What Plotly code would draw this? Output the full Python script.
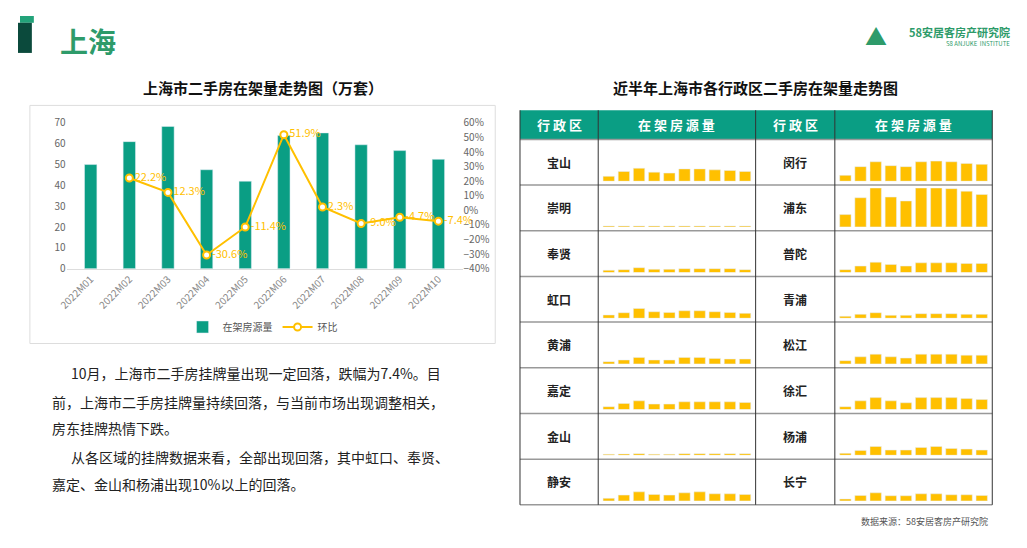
import plotly.graph_objects as go

W, H = 1011, 532   # page margins of 8px bring the page to 1027x548
OFF = 8
months = ["2022M01","2022M02","2022M03","2022M04","2022M05","2022M06","2022M07","2022M08","2022M09","2022M10"]
listings = [50, 61, 68.3, 47.5, 42, 64, 65.2, 59.5, 56.7, 52.5]
mom = [None, 22.2, 12.3, -30.6, -11.4, 51.9, 2.3, -9.0, -4.7, -7.4]

left_districts = ["宝山", "崇明", "奉贤", "虹口", "黄浦", "嘉定", "金山", "静安"]
right_districts = ["闵行", "浦东", "普陀", "青浦", "松江", "徐汇", "杨浦", "长宁"]
spark = {
    "宝山": [15,30,40,28,25,38,38,35,33,30],
    "崇明": [3,3,3,3,3,3,3,3,3,3],
    "奉贤": [7,9,15,10,10,12,12,12,12,9],
    "虹口": [10,17,30,20,18,23,23,20,18,15],
    "黄浦": [7,12,20,12,12,20,20,17,15,15],
    "嘉定": [9,19,27,17,17,24,24,24,24,22],
    "金山": [3,4,5,3,3,5,5,5,5,5],
    "静安": [8,18,28,20,18,25,28,22,22,20],
    "闵行": [18,45,60,48,45,60,62,60,55,52],
    "浦东": [38,90,120,92,80,120,120,118,110,100],
    "普陀": [9,20,32,25,20,30,30,30,28,28],
    "青浦": [6,12,17,9,9,14,14,14,12,12],
    "松江": [10,22,30,22,18,30,30,30,27,27],
    "徐汇": [9,27,37,27,21,37,37,37,34,31],
    "杨浦": [6,15,27,16,16,24,27,21,19,16],
    "长宁": [6,17,25,16,16,22,22,19,19,17],
}
TEAL = "#0A9E84"
GOLD = "#FFC000"
FONT = "Noto Sans CJK SC"

def px(x): return (x - OFF) / W
def py(y): return 1 - (y - OFF) / H

fig = go.Figure()
fig.add_trace(go.Bar(x=months, y=listings, name="在架房源量", marker_color=TEAL, width=0.32,
                     xaxis="x", yaxis="y"))
fig.add_trace(go.Scatter(x=months, y=[None if v is None else v/100 for v in mom], name="环比",
                         mode="lines+markers+text",
                         text=[None if v is None else f"{v:.1f}%" for v in mom],
                         textposition="middle right", textfont=dict(color=GOLD, size=11),
                         line=dict(color=GOLD, width=2),
                         marker=dict(size=7, color="white", line=dict(color=GOLD, width=2)),
                         xaxis="x", yaxis="y2", cliponaxis=False))

layout = dict(
    width=W, height=H, margin=dict(l=0, r=0, t=0, b=0),
    paper_bgcolor="white", plot_bgcolor="rgba(0,0,0,0)",
    font=dict(family=FONT, color="#333"),
    showlegend=True, bargap=0.6,
    legend=dict(orientation="h", x=px(255), y=py(328), xanchor="center", yanchor="middle",
                font=dict(size=10, color="#555"), bgcolor="rgba(0,0,0,0)"),
    xaxis=dict(domain=[px(57), px(457)], anchor="y", tickangle=-45, tickfont=dict(size=10, color="#888"),
               showline=True, linecolor="#ddd", showgrid=False),
    yaxis=dict(domain=[py(268), py(118)], anchor="x", range=[0, 70], dtick=10, showgrid=False,
               tickfont=dict(size=10, color="#666"), zeroline=False),
    yaxis2=dict(overlaying="y", side="right", anchor="x", range=[-0.4, 0.6], dtick=0.1, tickformat=".0%",
                showgrid=False, zeroline=False, tickfont=dict(size=10, color="#666")),
)

cols = [515, 594, 753, 833, 992]
rows = [105, 135, 182, 229, 276, 323, 370, 417, 464, 511]
shapes = [
    dict(type="rect", xref="paper", yref="paper", x0=px(20), x1=px(490), y0=py(345), y1=py(100),
         line=dict(color="#ddd", width=1)),
    dict(type="rect", xref="paper", yref="paper", x0=px(8), x1=px(22), y0=py(46), y1=py(15),
         fillcolor="#0B4A3C", line=dict(width=0)),
    dict(type="rect", xref="paper", yref="paper", x0=px(10), x1=px(24), y0=py(15), y1=py(8),
         fillcolor="#23A37A", line=dict(width=0), layer="below"),
    dict(type="rect", xref="paper", yref="paper", x0=px(cols[0]), x1=px(cols[-1]), y0=py(rows[1]), y1=py(rows[0]),
         fillcolor=TEAL, line=dict(width=0)),
]
for y in rows[1:]:
    shapes.append(dict(type="line", xref="paper", yref="paper", x0=px(cols[0]), x1=px(cols[-1]),
                       y0=py(y), y1=py(y), line=dict(color="#999", width=1.5)))
for x in cols:
    shapes.append(dict(type="line", xref="paper", yref="paper", x0=px(x), x1=px(x),
                       y0=py(rows[-1]), y1=py(rows[0]), line=dict(color="#333", width=1)))
layout["shapes"] = shapes

ann = [
    dict(text="<b>上海</b>", x=px(48), y=py(34), xanchor="left", yanchor="middle", font=dict(size=28, color="#2E9B6A")),
    dict(text="<b>58安居客房产研究院</b>", x=px(1012), y=py(24), xanchor="right", yanchor="middle", font=dict(size=11, color="#2E9B6A")),
    dict(text="S8 ANJUKE  INSTITUTE", x=px(1012), y=py(36), xanchor="right", yanchor="middle", font=dict(size=6, color="#2E9B6A")),
    dict(text="▲", x=px(875), y=py(28), xanchor="center", yanchor="middle", font=dict(size=22, color="#2E9B6A")),
    dict(text="<b>上海市二手房在架量走势图（万套）</b>", x=px(255), y=py(82), xanchor="center", yanchor="middle", font=dict(size=15, color="#111")),
    dict(text="<b>近半年上海市各行政区二手房在架量走势图</b>", x=px(753), y=py(82), xanchor="center", yanchor="middle", font=dict(size=15, color="#111")),
    dict(text="数据来源：58安居客房产研究院", x=px(990), y=py(528), xanchor="right", yanchor="middle", font=dict(size=9, color="#555")),
]
para = [
    (60, 375, "10月，上海市二手房挂牌量出现一定回落，跌幅为7.4%。目"),
    (40, 405, "前，上海市二手房挂牌量持续回落，与当前市场出现调整相关，"),
    (40, 432, "房东挂牌热情下跌。"),
    (60, 462, "从各区域的挂牌数据来看，全部出现回落，其中虹口、奉贤、"),
    (40, 490, "嘉定、金山和杨浦出现10%以上的回落。"),
]
for x, y, t in para:
    ann.append(dict(text=t, x=px(x), y=py(y), xanchor="left", yanchor="middle", font=dict(size=14, color="#222")))
for i, t in enumerate(["行 政 区", "在 架 房 源 量", "行 政 区", "在 架 房 源 量"]):
    ann.append(dict(text=f"<b>{t}</b>", x=px((cols[i]+cols[i+1])/2), y=py(120), xanchor="center", yanchor="middle",
                    font=dict(size=13, color="white", family="Noto Sans CJK SC")))

idx = 3
for side, names in enumerate([left_districts, right_districts]):
    nx0, nx1 = cols[2*side], cols[2*side+1]
    sx0, sx1 = cols[2*side+1], cols[2*side+2]
    for r, name in enumerate(names):
        top, bot = rows[r+1], rows[r+2]
        ann.append(dict(text=f"<b>{name}</b>", x=px((nx0+nx1)/2), y=py((top+bot)/2), xanchor="center",
                        yanchor="middle", font=dict(size=12, color="#222")))
        xa, ya = f"xaxis{idx}", f"yaxis{idx}"
        layout[xa] = dict(domain=[px(sx0+3), px(sx1-3)], anchor=f"y{idx}", visible=False, range=[-0.5, 9.5])
        layout[ya] = dict(domain=[py(bot-4), py(bot-44)], anchor=f"x{idx}", visible=False, range=[0, 120])
        fig.add_trace(go.Bar(x=list(range(10)), y=spark[name], marker_color=GOLD, width=0.75,
                             showlegend=False, xaxis=f"x{idx}", yaxis=f"y{idx}", hoverinfo="skip"))
        idx += 1

for a in ann:
    a.update(xref="paper", yref="paper", showarrow=False)
layout["annotations"] = ann
fig.update_layout(**layout)
fig.write_html("out.html", config={"displayModeBar": False})
